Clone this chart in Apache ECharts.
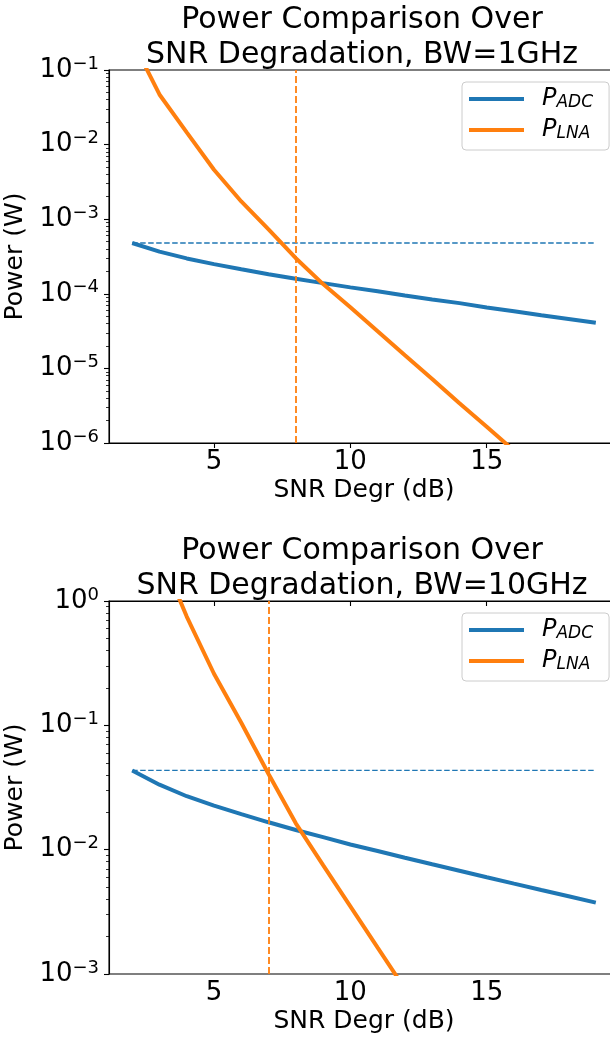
<!DOCTYPE html>
<html>
<head>
<meta charset="utf-8">
<script src="https://cdn.jsdelivr.net/npm/echarts@6/dist/echarts.min.js"></script>
<style>
  html, body { margin: 0; padding: 0; background: #fff; }
  #chart { width: 610px; height: 1038px; }
</style>
</head>
<body>
<div id="chart"></div>
<script>
// SNR degradation (dB), shared by both panels
var snr = [2, 3, 4, 5, 6, 7, 8, 9, 10, 11, 12, 13, 14, 15, 16, 17, 18, 19];

// BW = 1GHz
var adc1 = [4.80e-4, 3.68e-4, 2.98e-4, 2.50e-4, 2.13e-4, 1.83e-4, 1.59e-4, 1.39e-4, 1.22e-4,
            1.08e-4, 9.5e-5, 8.4e-5, 7.5e-5, 6.55e-5, 5.85e-5, 5.15e-5, 4.6e-5, 4.1e-5];
var lna1 = [0.25, 0.047, 0.0146, 4.6e-3, 1.73e-3, 7.3e-4, 3.0e-4, 1.35e-4, 6.6e-5,
            3.15e-5, 1.5e-5, 7.2e-6, 3.4e-6, 1.65e-6, 7.9e-7, 3.8e-7, 1.8e-7, 8.7e-8];
var adcMax1 = 4.80e-4;
var vline1 = 8;

// BW = 10GHz
var adc2 = [0.0434, 0.0333, 0.0269, 0.0226, 0.0193, 0.0166, 0.0144, 0.0126, 0.0110,
            0.00976, 0.00862, 0.00763, 0.00677, 0.00600, 0.00533, 0.00474, 0.00422, 0.00375];
var lna2 = [12, 2.5, 0.75, 0.26, 0.105, 0.0406, 0.0163, 7.5e-3, 3.5e-3,
            1.63e-3, 7.6e-4, 3.5e-4, 1.65e-4, 7.7e-5, 3.6e-5, 1.7e-5, 7.9e-6, 3.7e-6];
var adcMax2 = 0.0434;
var vline2 = 7;

var xTicks = [5, 10, 15];
var titles = ['Power Comparison Over\nSNR Degradation, BW=1GHz',
              'Power Comparison Over\nSNR Degradation, BW=10GHz'];

var FONT = 'DejaVu Sans';
var BLUE = '#1f77b4', ORANGE = '#ff7f0e';

// minor ticks at 2..9 x 10^e, given as log10 for a helper value axis
function minorTicks(lo, hi) {
  var out = [];
  for (var e = lo; e < hi; e++) {
    for (var k = 2; k <= 9; k++) out.push(e + Math.log10(k));
  }
  return out;
}
function pairs(xs, ys) {
  return xs.map(function (x, i) { return [x, ys[i]]; });
}
function expLabel(v) {
  var e = Math.round(Math.log10(v));
  return '{b|10}{s|' + (e < 0 ? '\u2212' : '') + Math.abs(e) + '}';
}

var tops = [70, 601];
var H = 373, W = 510;
var ranges = [[-6, -1], [-3, 0]];

var grids = [], xAxes = [], yAxes = [], legends = [], titleList = [], series = [];

[0, 1].forEach(function (p) {
  var lo = ranges[p][0], hi = ranges[p][1];
  grids.push({ left: 109, top: tops[p], width: W, height: H, show: true,
               outerBoundsMode: 'none', containLabel: false,
               borderColor: '#000', borderWidth: 1.1, backgroundColor: 'transparent' });
  titleList.push({
    text: titles[p], left: 362, top: tops[p] - 67, textAlign: 'center', padding: 0,
    textStyle: { fontFamily: FONT, fontSize: 30, fontWeight: 'normal', color: '#000', lineHeight: 35 }
  });
  xAxes.push({
    type: 'value', gridIndex: p, min: 1.15, max: 19.85,
    name: 'SNR Degr (dB)', nameLocation: 'middle', nameGap: 35,
    nameTextStyle: { fontFamily: FONT, fontSize: 25, color: '#000' },
    axisLine: { lineStyle: { color: '#000', width: 1.1 } },
    axisTick: { customValues: xTicks, length: 5, lineStyle: { color: '#000', width: 1.1 } },
    axisLabel: { customValues: xTicks, margin: 6, fontFamily: FONT, fontSize: 26, color: '#000' },
    splitLine: { show: false }
  });
  yAxes.push({
    type: 'log', logBase: 10, gridIndex: p, position: 'left',
    min: Math.pow(10, lo), max: Math.pow(10, hi),
    name: 'Power (W)', nameLocation: 'middle', nameGap: 73, nameRotate: 90,
    nameTextStyle: { fontFamily: FONT, fontSize: 25, color: '#000' },
    axisLine: { show: true, lineStyle: { color: '#000', width: 1.1 } },
    axisTick: { show: true, length: 5, lineStyle: { color: '#000', width: 1.1 } },
    axisLabel: {
      margin: 10, formatter: expLabel,
      rich: {
        b: { fontFamily: FONT, fontSize: 26, color: '#000', lineHeight: 30 },
        s: { fontFamily: FONT, fontSize: 18, color: '#000', lineHeight: 18, verticalAlign: 'top' }
      }
    },
    splitLine: { show: false }
  });
  // helper axis for the minor ticks: sits on the right slot, pulled back onto the left spine
  yAxes.push({
    type: 'value', gridIndex: p, position: 'right', offset: -W, min: lo, max: hi,
    axisLine: { show: false },
    axisTick: { show: true, inside: true, customValues: minorTicks(lo, hi), length: 3,
                lineStyle: { color: '#000', width: 0.8 } },
    axisLabel: { show: false },
    splitLine: { show: false }
  });
  legends.push({
    data: ['P_ADC', 'P_LNA'], orient: 'vertical', left: 462, top: tops[p] + 12,
    padding: [5, 16, 8, 7], itemGap: 7, itemWidth: 55, itemHeight: 4, icon: 'rect',
    selectedMode: false, backgroundColor: 'rgba(255,255,255,0.8)',
    borderColor: '#cccccc', borderWidth: 1, borderRadius: 4,
    formatter: function (name) {
      return '{p|P}{s|' + name.split('_')[1] + '}';
    },
    textStyle: {
      rich: {
        p: { fontFamily: FONT, fontStyle: 'italic', fontSize: 24, color: '#000', lineHeight: 30,
             padding: [0, 0, 0, 13] },
        s: { fontFamily: FONT, fontStyle: 'italic', fontSize: 17, color: '#000', lineHeight: 30,
             padding: [7, 0, 0, 0] }
      }
    }
  });
});

var sets = [
  { adc: adc1, lna: lna1, max: adcMax1, vl: vline1 },
  { adc: adc2, lna: lna2, max: adcMax2, vl: vline2 }
];
sets.forEach(function (s, p) {
  series.push({
    name: 'P_ADC', type: 'line', xAxisIndex: p, yAxisIndex: p * 2,
    data: pairs(snr, s.adc), showSymbol: false, symbol: 'none', clip: true,
    lineStyle: { color: BLUE, width: 4 }, itemStyle: { color: BLUE }, z: 3
  });
  series.push({
    name: 'P_LNA', type: 'line', xAxisIndex: p, yAxisIndex: p * 2,
    data: pairs(snr, s.lna), showSymbol: false, symbol: 'none', clip: true,
    lineStyle: { color: ORANGE, width: 4 }, itemStyle: { color: ORANGE }, z: 3,
    markLine: {
      silent: true, symbol: 'none', label: { show: false },
      lineStyle: { color: ORANGE, width: 1.8, type: [7, 3] },
      data: [{ xAxis: s.vl }]
    }
  });
  series.push({
    name: 'P_ADC max', type: 'line', xAxisIndex: p, yAxisIndex: p * 2,
    data: [[snr[0], s.max], [snr[snr.length - 1], s.max]], showSymbol: false, symbol: 'none',
    lineStyle: { color: BLUE, width: 1.4, type: [5.5, 2.5] }, z: 2
  });
});

var chart = echarts.init(document.getElementById('chart'), null, { renderer: 'canvas' });
chart.setOption({
  animation: false,
  backgroundColor: '#fff',
  title: titleList,
  grid: grids,
  xAxis: xAxes,
  yAxis: yAxes,
  legend: legends,
  series: series
});
</script>
</body>
</html>
